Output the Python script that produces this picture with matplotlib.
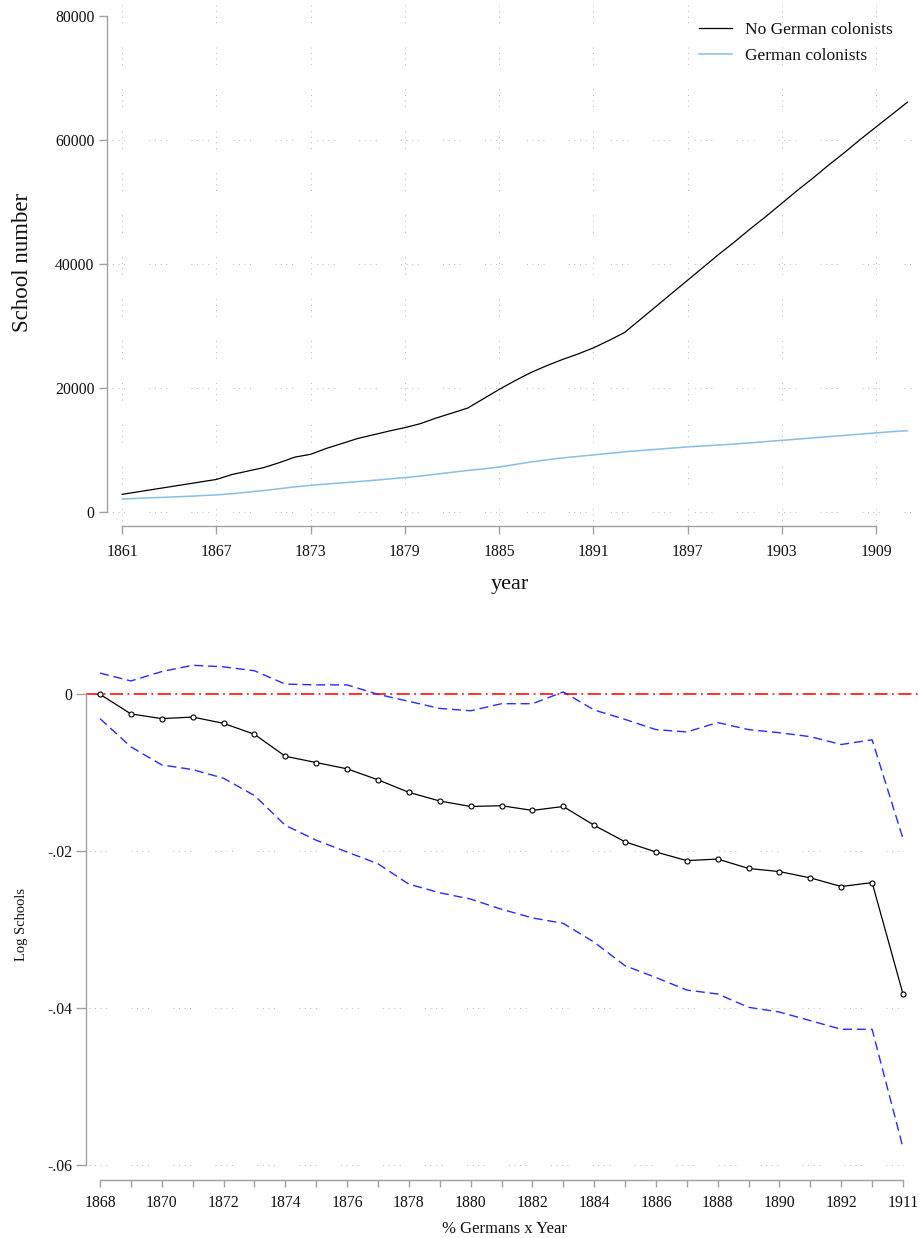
"""
School numbers by German colonist presence, and the % Germans x Year
event-study coefficients (Stata-style graphs redrawn in matplotlib).
"""

import numpy as np
import matplotlib
matplotlib.use("Agg")
import matplotlib.pyplot as plt

plt.rcParams["font.family"] = ["Liberation Serif", "DejaVu Serif"]
plt.rcParams["lines.scale_dashes"] = False

# ---- top panel data ----
years = list(range(1861, 1912))
no_german = [2900, 3300, 3700, 4100, 4500, 4900, 5300, 6100, 6650, 7200,
             8000, 8900, 9350, 10300, 11100, 11900, 12500, 13100, 13650, 14300,
             15200, 16000, 16800, 18300, 19800, 21200, 22500, 23600, 24600, 25500,
             26500, 27700, 29000, 31100, 33200, 35300, 37400, 39500, 41600, 43600,
             45700, 47700, 49800, 51900, 53900, 56000, 58000, 60100, 62100, 64100,
             66100]
german = [2150, 2250, 2350, 2450, 2550, 2680, 2800, 3000, 3250, 3500,
          3800, 4100, 4350, 4550, 4750, 4950, 5150, 5380, 5600, 5850,
          6150, 6450, 6750, 7000, 7300, 7700, 8100, 8450, 8750, 9000,
          9250, 9500, 9750, 9950, 10150, 10350, 10550, 10700, 10850, 11000,
          11200, 11400, 11600, 11800, 12000, 12200, 12400, 12600, 12800, 13000,
          13150]
top_xticks = [1861, 1867, 1873, 1879, 1885, 1891, 1897, 1903, 1909]
top_yticks = [0, 20000, 40000, 60000, 80000]

# ---- bottom panel data ----
coef_years = [str(y) for y in range(1868, 1894)] + ["1911"]
coef = [0, -0.0025, -0.0031, -0.0029, -0.0037, -0.0051, -0.0079, -0.0087,
        -0.0095, -0.0109, -0.0125, -0.0136, -0.0143, -0.0142, -0.0148, -0.0143,
        -0.0167, -0.0188, -0.0201, -0.0212, -0.0210, -0.0222, -0.0226, -0.0234,
        -0.0245, -0.0240, -0.0382]
ci_upper = [0.0027, 0.0017, 0.0029, 0.0037, 0.0035, 0.0030, 0.0013, 0.0012,
            0.0012, 0.0000, -0.0009, -0.0018, -0.0021, -0.0012, -0.0012, 0.0003,
            -0.0020, -0.0032, -0.0045, -0.0048, -0.0036, -0.0045, -0.0049, -0.0054,
            -0.0064, -0.0058, -0.0184]
ci_lower = [-0.0031, -0.0067, -0.0090, -0.0096, -0.0107, -0.0129, -0.0167, -0.0186,
            -0.0201, -0.0216, -0.0242, -0.0253, -0.0261, -0.0274, -0.0285, -0.0292,
            -0.0316, -0.0346, -0.0361, -0.0377, -0.0382, -0.0399, -0.0405, -0.0416,
            -0.0427, -0.0427, -0.0578]
bot_yticks = [0, -0.02, -0.04, -0.06]
bot_ylabels = ["0", "-.02", "-.04", "-.06"]

AXIS_COL = "#a0a0a0"
GRID_COL = "#b4b4b4"
TXT_COL = "#111111"
grid_ls = (0, (0.7, 3.3, 0.7, 3.3, 0.7, 3.3, 0.7, 17.5))


def stata_axes(ax):
    for s in ["top", "right"]:
        ax.spines[s].set_visible(False)
    for s in ["left", "bottom"]:
        ax.spines[s].set_color(AXIS_COL)
        ax.spines[s].set_linewidth(1.0)
    ax.tick_params(colors=AXIS_COL, labelcolor=TXT_COL, labelsize=11.3,
                   length=6, width=1.0)


fig = plt.figure(figsize=(9.22, 12.38), dpi=100)

# ================= top panel =================
ax1 = fig.add_axes([0.11605, 0.57536, 0.8742, 0.42302])
stata_axes(ax1)
ax1.set_xlim(1860.03, 1911.36)
ax1.set_ylim(-2160, 82260)

for yv in top_yticks[:-1]:
    ax1.axhline(yv, color=GRID_COL, lw=0.7, ls=grid_ls, zorder=0)
for xv in top_xticks:
    ax1.axvline(xv, color=GRID_COL, lw=0.7, ls=grid_ls, zorder=0)

ax1.plot(years, no_german, color="black", lw=0.9, label="No German colonists")
ax1.plot(years, german, color="#87bde8", lw=1.1, label="German colonists")

ax1.spines["left"].set_bounds(0, 80000)
ax1.spines["bottom"].set_bounds(top_xticks[0], top_xticks[-1])
ax1.set_xticks(top_xticks)
ax1.set_yticks(top_yticks)
ax1.set_yticklabels([str(v) for v in top_yticks])
ax1.tick_params(axis="y", pad=3)
ax1.tick_params(axis="x", pad=7)
ax1.set_ylabel("School number", fontsize=16.5, color=TXT_COL)
ax1.yaxis.set_label_coords(-0.092, 0.5026)
ax1.set_xlabel("year", fontsize=16, color=TXT_COL, labelpad=11)

leg = ax1.legend(loc="upper left", bbox_to_anchor=(0.735, 0.962), frameon=False,
                 fontsize=12.5, handlelength=1.85, handletextpad=0.75,
                 labelspacing=0.55, borderpad=0, borderaxespad=0)
for t in leg.get_texts():
    t.set_color(TXT_COL)

# ================= bottom panel =================
ax2 = fig.add_axes([0.09328, 0.04685, 0.90672, 0.43215])
stata_axes(ax2)
xpos = np.arange(len(coef_years))
ax2.set_xlim(-0.4534, len(coef_years) - 1 + 0.615)
ax2.set_ylim(-0.06191, 0.006284)

ax2.hlines(bot_yticks[1:], -0.35, xpos[-1], color=GRID_COL, lw=0.7,
           linestyles=[grid_ls], zorder=0)
ax2.axhline(0, color="#ff2020", lw=1.3, ls=(0, (9.5, 3.2, 1.3, 3.2)), zorder=1)

ax2.plot(xpos, ci_upper, color="#2a2aff", lw=1.0, ls=(0, (6.5, 3.5)))
ax2.plot(xpos, ci_lower, color="#2a2aff", lw=1.0, ls=(0, (6.5, 3.5)))
ax2.plot(xpos, coef, color="black", lw=0.9, marker="o", markersize=3.6,
         markerfacecolor="white", markeredgecolor="black", markeredgewidth=0.8,
         zorder=3)

ax2.spines["left"].set_bounds(-0.06, 0)
ax2.spines["bottom"].set_bounds(xpos[0], xpos[-1])
ax2.set_yticks(bot_yticks)
ax2.set_yticklabels(bot_ylabels)
ax2.set_xticks(xpos)
ax2.set_xticklabels([lab if i % 2 == 0 else "" for i, lab in enumerate(coef_years)])
ax2.tick_params(axis="y", length=7, pad=3)
ax2.tick_params(axis="x", length=5, pad=6)
ax2.set_ylabel("Log Schools", fontsize=10.5, color=TXT_COL)
ax2.yaxis.set_label_coords(-0.069, 0.4785)
ax2.set_xlabel("% Germans x Year", fontsize=12, color=TXT_COL, labelpad=7)

fig.savefig("out.png", dpi=100)
